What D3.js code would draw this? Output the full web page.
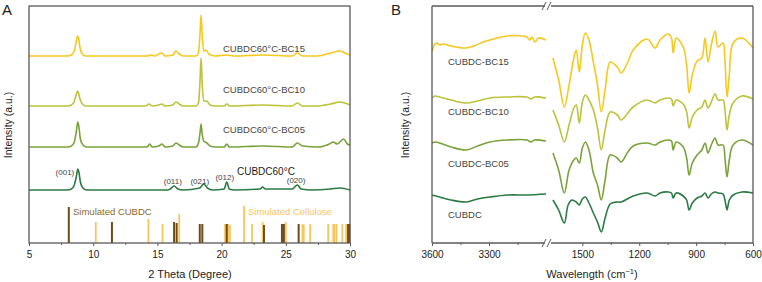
<!DOCTYPE html>
<html>
<head>
<meta charset="utf-8">
<script src="https://cdn.jsdelivr.net/npm/d3@7"></script>
<style>
  body { margin: 0; background: #fff; }
  text { font-family: Arial, "Liberation Sans", sans-serif; }
</style>
</head>
<body>
<div id="chart"></div>
<script>
// ---- data ----
// XRD patterns: [2theta, intensity a.u.]
var xrdBC15 = [[5,187],[8,187],[8.3,188],[8.5,191],[8.65,199],[8.78,207],[8.86,205],[8.95,197],[9.1,190],[9.4,187],[14.2,187],[14.5,188],[14.8,187],[15.1,189],[15.35,190],[15.6,187],[16.2,188],[16.45,192],[16.7,189],[17,187],[18,187],[18.2,190],[18.32,210],[18.4,228],[18.48,210],[18.6,192],[18.8,193],[19,189],[19.5,187],[20.4,188],[21,187],[23.2,188],[25.5,187],[25.9,190],[26.3,187],[27.5,187],[28.5,190],[29.2,192],[29.6,190],[30,188]];
var xrdBC10 = [[5,137],[8,137],[8.3,138],[8.5,141],[8.65,147],[8.78,152],[8.86,150],[8.95,145],[9.1,140],[9.4,137],[14.1,137],[14.35,139],[14.6,137],[15.1,138],[15.35,139],[15.6,137],[16.2,138],[16.45,141],[16.7,139],[17,137],[18,137],[18.2,140],[18.32,162],[18.4,185],[18.48,162],[18.6,142],[18.85,142],[19.1,138],[19.5,137],[20.2,137],[20.4,139],[20.6,137],[23.2,138],[25.5,137],[25.9,140],[26.3,137],[27.5,137],[28.5,139],[29.2,141],[29.6,140],[30,138]];
var xrdBC05 = [[5,96],[8,96],[8.3,97],[8.5,100],[8.68,111],[8.8,121],[8.9,115],[9,104],[9.2,98],[9.5,96],[14.2,96],[14.4,99],[14.6,96],[15.1,97],[15.35,99],[15.6,96],[16.2,97],[16.45,100],[16.7,98],[17,96],[18,96],[18.2,100],[18.32,110],[18.4,119],[18.48,110],[18.6,102],[18.85,100],[19.1,97],[19.5,96],[20.2,96],[20.4,99],[20.6,96],[23.2,97],[25.5,96],[25.9,100],[26.3,97],[27.5,96],[28.4,99],[28.7,101],[29,99],[29.5,104],[29.8,99],[30,98]];
var xrdCUBDC = [[5,53],[8,53],[8.3,54],[8.5,57],[8.68,66],[8.8,74],[8.9,70],[9,61],[9.2,55],[9.5,53],[15.8,53],[16,54],[16.3,57],[16.6,54],[17,53],[18.3,55],[18.6,59],[18.9,55],[19.3,53],[20.2,54],[20.4,61],[20.6,54],[21,53],[23,54],[23.2,56],[23.4,54],[25.5,54],[25.9,58],[26.2,54],[27,53],[28.5,54],[29.2,55],[30,53]];

var xrdNames = ["CUBDC60°C-BC15", "CUBDC60°C-BC10", "CUBDC60°C-BC05", "CUBDC60°C"];
// [label, 2theta, height]
var hklLabels = [["(001)", 7.8, 71], ["(011)", 16.2, 62], ["(021)", 18.3, 62], ["(012)", 20.25, 66], ["(020)", 25.8, 63]];

// simulated reflections: [2theta, relative height]
var simCUBDC = [[8.1,36],[11.46,21],[16.3,21],[16.5,20],[18.3,19],[18.5,19],[20.4,19],[23.3,18],[24.7,19],[24.85,19],[26.0,19],[29.85,19],[29.95,19]];
var simCellulose = [[10.2,21],[14.3,24],[15.4,19],[16.7,29],[20.27,19],[20.5,19],[20.65,18],[21.75,37],[22.37,19],[23.2,21],[25.0,21],[26.3,19],[26.4,18],[26.9,19],[28.3,19],[28.7,19],[28.8,19],[28.95,19],[29.4,19],[29.7,19]];

// FTIR spectra: [wavenumber cm-1, transmittance a.u.]
var irBC15L = [[3600,191],[3585,199],[3575,200],[3560,198],[3540,199],[3500,197],[3420,195],[3380,197],[3330,201],[3295,203],[3205,207],[3120,207],[3100,206],[3085,203],[3075,206],[3058,201],[3040,205],[3000,203]];
var irBC10L = [[3600,145],[3585,147],[3560,146],[3500,143],[3420,140],[3360,142],[3295,145],[3200,146],[3100,146],[3080,144],[3060,146],[3000,145]];
var irBC05L = [[3600,100],[3580,101],[3500,96],[3420,93],[3360,97],[3295,101],[3200,103],[3100,103],[3080,101],[3060,103],[3000,102]];
var irCUBDCL = [[3600,48],[3560,46],[3500,43],[3420,41],[3360,44],[3295,46],[3200,48],[3100,48],[3000,49]];

var irBC15R = [[1655,185],[1625,163],[1595,136],[1570,158],[1545,185],[1532,193],[1516,171],[1500,198],[1484,210],[1465,203],[1442,181],[1420,158],[1400,131],[1380,153],[1353,181],[1316,176],[1295,170],[1260,181],[1232,193],[1158,204],[1116,195],[1090,203],[1047,209],[1030,205],[1021,190],[1005,205],[968,196],[950,178],[937,150],[920,168],[895,182],[870,185],[853,205],[837,181],[820,198],[800,212],[784,196],[758,200],[748,183],[737,146],[725,168],[705,200],[658,205],[600,195]];
var irBC10R = [[1655,133],[1625,118],[1595,101],[1570,118],[1545,135],[1532,138],[1516,120],[1500,141],[1484,148],[1465,143],[1442,133],[1420,115],[1400,93],[1380,113],[1353,131],[1316,128],[1295,123],[1260,130],[1232,136],[1158,143],[1116,140],[1090,143],[1047,145],[1030,144],[1021,137],[1005,143],[968,139],[950,131],[937,115],[920,126],[895,133],[870,136],[853,143],[837,135],[820,141],[800,149],[784,143],[758,143],[748,133],[737,113],[725,128],[705,140],[658,147],[600,144]];
var irBC05R = [[1655,90],[1625,73],[1595,50],[1570,73],[1545,83],[1532,85],[1516,80],[1500,95],[1484,101],[1465,93],[1442,70],[1420,58],[1400,43],[1380,63],[1353,88],[1316,85],[1295,81],[1260,91],[1232,97],[1158,100],[1116,98],[1090,101],[1047,103],[1030,102],[1021,93],[1005,101],[968,96],[950,85],[937,68],[920,80],[895,88],[870,93],[853,100],[837,90],[820,98],[800,105],[784,98],[758,98],[748,85],[737,66],[725,83],[705,98],[658,103],[600,98]];
var irCUBDCR = [[1655,43],[1625,33],[1595,20],[1575,38],[1555,43],[1532,41],[1516,38],[1500,44],[1484,46],[1465,40],[1442,30],[1420,21],[1400,11],[1380,25],[1353,39],[1316,41],[1295,41],[1232,47],[1158,50],[1116,47],[1090,50],[1047,51],[1030,50],[1021,45],[1005,50],[968,47],[950,43],[937,33],[920,40],[895,45],[870,47],[853,50],[837,45],[820,49],[800,51],[784,50],[758,49],[748,43],[737,33],[725,43],[705,48],[658,51],[600,50]];

var irNames = ["CUBDC-BC15", "CUBDC-BC10", "CUBDC-BC05", "CUBDC"];

var colors = ["#f6c81e", "#bcc33a", "#7aa23a", "#2c7a44"];
var darkStick = "#6e4c16", lightStick = "#f9c45e";

// ---- layout ----
var W = 762, H = 282;
var yTop = 6, yBot = 243;
var frame = "#5a5a5a";

var svg = d3.select("#chart").append("svg")
  .attr("width", W).attr("height", H);

var y = d3.scaleLinear().domain([0, 237]).range([yBot, yTop]);

// ================= Panel A =================
var xA = d3.scaleLinear().domain([5, 30]).range([29, 350]);
var gA = svg.append("g");

var lineA = d3.line()
  .x(function (d) { return xA(d[0]); })
  .y(function (d) { return y(d[1]); })
  .curve(d3.curveMonotoneX);

[xrdBC15, xrdBC10, xrdBC05, xrdCUBDC].forEach(function (s, i) {
  gA.append("path").datum(s)
    .attr("d", lineA)
    .attr("fill", "none")
    .attr("stroke", colors[i])
    .attr("stroke-width", 1.6);
});

// sticks
gA.selectAll(".stickL").data(simCellulose).enter().append("line")
  .attr("x1", function (d) { return xA(d[0]); })
  .attr("x2", function (d) { return xA(d[0]); })
  .attr("y1", y(0)).attr("y2", function (d) { return y(d[1]); })
  .attr("stroke", lightStick).attr("stroke-width", 1.8);
gA.selectAll(".stickD").data(simCUBDC).enter().append("line")
  .attr("x1", function (d) { return xA(d[0]); })
  .attr("x2", function (d) { return xA(d[0]); })
  .attr("y1", y(0)).attr("y2", function (d) { return y(d[1]); })
  .attr("stroke", darkStick).attr("stroke-width", 2);

// frame
gA.append("rect").attr("x", xA(5)).attr("y", yTop)
  .attr("width", xA(30) - xA(5)).attr("height", yBot - yTop)
  .attr("fill", "none").attr("stroke", frame).attr("stroke-width", 1.3);

gA.append("g").attr("transform", "translate(0," + yBot + ")")
  .call(d3.axisBottom(xA).tickValues([5, 10, 15, 20, 25, 30]).tickSize(3).tickPadding(5));
gA.append("g").attr("transform", "translate(0," + yBot + ")")
  .call(d3.axisBottom(xA).tickValues([7.5, 12.5, 17.5, 22.5, 27.5]).tickSize(2).tickFormat(""));

// labels
var labYA = [48, 89, 129, 171];
xrdNames.forEach(function (n, i) {
  gA.append("text").attr("x", i === 3 ? 237 : 223).attr("y", labYA[i] + 3.5)
    .attr("font-size", i === 3 ? 10 : 9.5)
    .attr("fill", i === 3 ? "#222" : "#444")
    .text(n);
});
hklLabels.forEach(function (h) {
  gA.append("text").attr("x", xA(h[1])).attr("y", y(h[2]) + 3)
    .attr("text-anchor", "middle").attr("font-size", 8).attr("fill", "#444")
    .text(h[0]);
});
gA.append("text").attr("x", 73).attr("y", 215).attr("font-size", 9.5)
  .attr("fill", "#8c6a2c").text("Simulated CUBDC");
gA.append("text").attr("x", 248).attr("y", 215).attr("font-size", 9.5)
  .attr("fill", lightStick).text("Simulated Cellulose");

gA.append("text").attr("x", 190).attr("y", 278).attr("text-anchor", "middle")
  .attr("font-size", 11).attr("fill", "#222").text("2 Theta (Degree)");
gA.append("text").attr("transform", "translate(12,125) rotate(-90)")
  .attr("text-anchor", "middle").attr("font-size", 10.5).attr("fill", "#222")
  .text("Intensity (a.u.)");
gA.append("text").attr("x", 2).attr("y", 15).attr("font-size", 15)
  .attr("fill", "#222").text("A");

// ================= Panel B =================
var xL = d3.scaleLinear().domain([3600, 3000]).range([432, 546]);
var xR = d3.scaleLinear().domain([1660, 600]).range([552, 753]);
var gB = svg.append("g");

function irLine(sc) {
  return d3.line()
    .x(function (d) { return sc(d[0]); })
    .y(function (d) { return y(d[1]); })
    .curve(d3.curveCatmullRom.alpha(0.5));
}
[irBC15L, irBC10L, irBC05L, irCUBDCL].forEach(function (s, i) {
  gB.append("path").datum(s).attr("d", irLine(xL))
    .attr("fill", "none").attr("stroke", colors[i]).attr("stroke-width", 1.6);
});
[irBC15R, irBC10R, irBC05R, irCUBDCR].forEach(function (s, i) {
  gB.append("path").datum(s).attr("d", irLine(xR))
    .attr("fill", "none").attr("stroke", colors[i]).attr("stroke-width", 1.6);
});

// left, right sides
gB.append("line").attr("x1", 432).attr("x2", 432).attr("y1", yTop).attr("y2", yBot)
  .attr("stroke", frame).attr("stroke-width", 1.3);
gB.append("line").attr("x1", 753).attr("x2", 753).attr("y1", yTop).attr("y2", yBot)
  .attr("stroke", frame).attr("stroke-width", 1.3);
// top & bottom with break
[yTop, yBot].forEach(function (yy) {
  gB.append("line").attr("x1", 432).attr("x2", 545).attr("y1", yy).attr("y2", yy)
    .attr("stroke", frame).attr("stroke-width", 1.3);
  gB.append("line").attr("x1", 551).attr("x2", 753).attr("y1", yy).attr("y2", yy)
    .attr("stroke", frame).attr("stroke-width", 1.3);
  [544, 549].forEach(function (bx) {
    gB.append("line").attr("x1", bx - 2).attr("x2", bx + 2)
      .attr("y1", yy + 4).attr("y2", yy - 4)
      .attr("stroke", frame).attr("stroke-width", 1);
  });
});

gB.append("g").attr("transform", "translate(0," + yBot + ")")
  .call(d3.axisBottom(xL).tickValues([3600, 3300]).tickSize(3).tickPadding(5).tickFormat(d3.format("d")));
gB.append("g").attr("transform", "translate(0," + yBot + ")")
  .call(d3.axisBottom(xL).tickValues([3450, 3150]).tickSize(2).tickFormat(""));
gB.append("g").attr("transform", "translate(0," + yBot + ")")
  .call(d3.axisBottom(xR).tickValues([1500, 1200, 900, 600]).tickSize(3).tickPadding(5).tickFormat(d3.format("d")));
gB.append("g").attr("transform", "translate(0," + yBot + ")")
  .call(d3.axisBottom(xR).tickValues([1350, 1050, 750]).tickSize(2).tickFormat(""));

var labYB = [61, 111, 163, 214];
irNames.forEach(function (n, i) {
  gB.append("text").attr("x", 448).attr("y", labYB[i] + 3.5)
    .attr("font-size", 9.5).attr("fill", "#444").text(n);
});

var wt = gB.append("text").attr("x", 592).attr("y", 278).attr("text-anchor", "middle")
  .attr("font-size", 11).attr("fill", "#222");
wt.append("tspan").text("Wavelength (cm");
wt.append("tspan").attr("dy", -4).attr("font-size", 7.5).text("−1");
wt.append("tspan").attr("dy", 4).text(")");
gB.append("text").attr("transform", "translate(409,125) rotate(-90)")
  .attr("text-anchor", "middle").attr("font-size", 10.5).attr("fill", "#222")
  .text("Intensity (a.u.)");
gB.append("text").attr("x", 391).attr("y", 15).attr("font-size", 15)
  .attr("fill", "#222").text("B");

// axis styling
svg.selectAll(".domain").remove();
svg.selectAll(".tick line").attr("stroke", frame);
svg.selectAll(".tick text").attr("font-size", 10).attr("fill", "#222")
  .attr("font-family", "Arial, 'Liberation Sans', sans-serif");
</script>
</body>
</html>
